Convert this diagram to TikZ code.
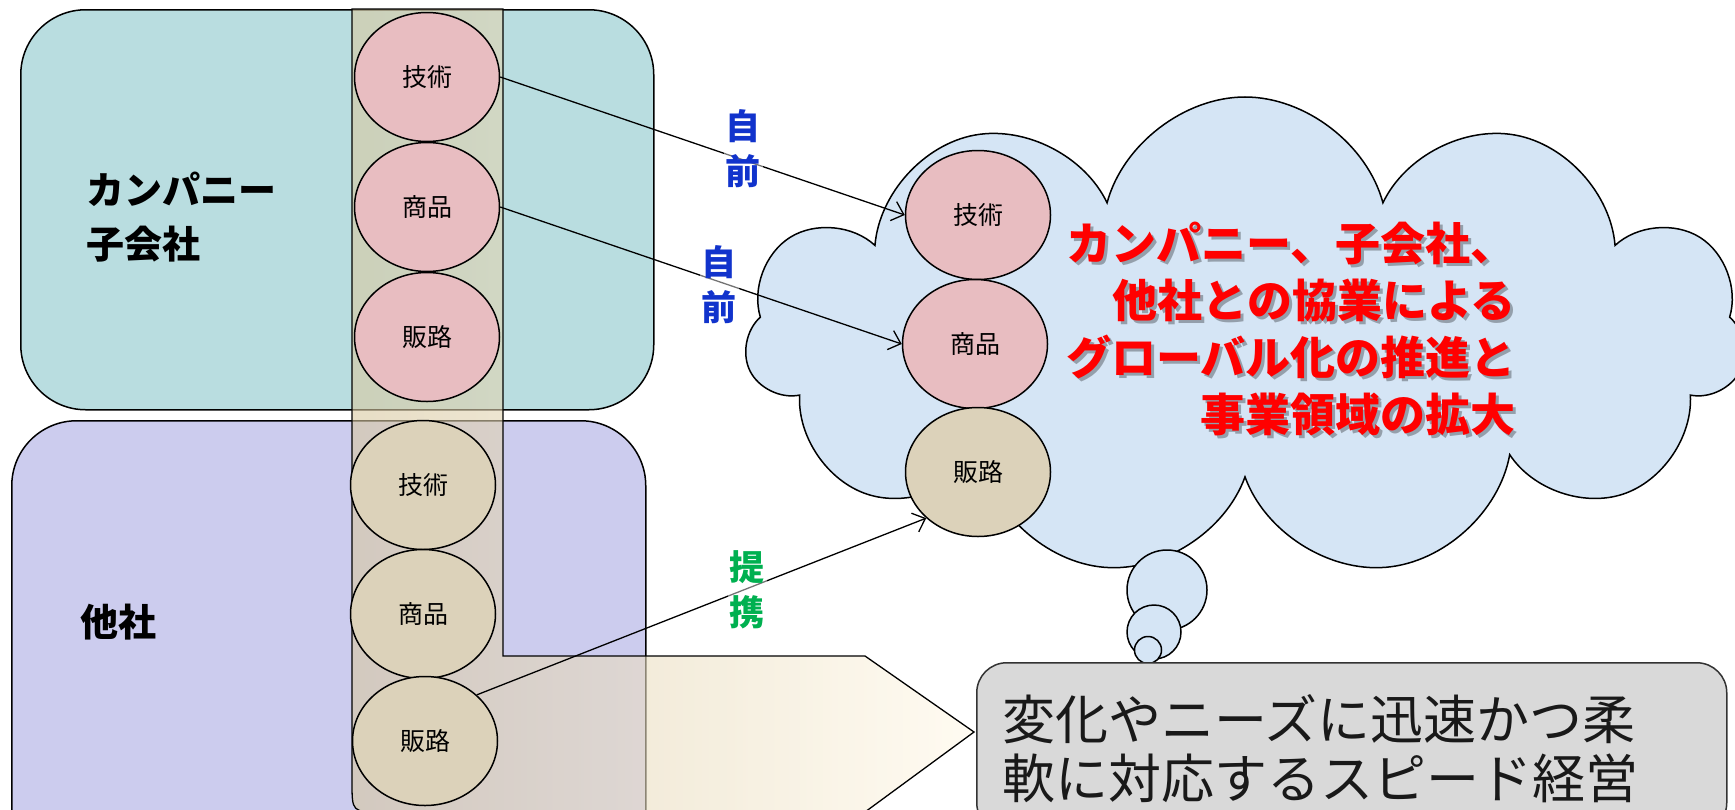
\documentclass[tikz,border=0pt]{standalone}
\usepackage{fontspec}
\setmainfont{Noto Sans CJK JP}
\usetikzlibrary{shapes.geometric,shapes.symbols,arrows.meta}
\definecolor{tealA}{HTML}{B9DDE0}
\definecolor{lavA}{HTML}{CCCCEE}
\definecolor{pinkA}{HTML}{E8BDC1}
\definecolor{tanA}{HTML}{DCD2BA}
\definecolor{cloudA}{HTML}{D5E5F5}
\definecolor{greyA}{HTML}{D9D9D9}
\definecolor{blueA}{HTML}{1133CC}
\definecolor{greenA}{HTML}{00B050}
\definecolor{barL}{HTML}{D8C8A0}
\definecolor{barR}{HTML}{FFF8E8}
\begin{document}
\begin{tikzpicture}[x=1pt,y=-1pt,
  panel/.style={draw=black,line width=1.5pt,rounded corners=65pt,inner sep=0pt},
  res/.style={ellipse,draw=black,line width=1.5pt,minimum width=145pt,minimum height=129pt,inner sep=0pt,font=\fontsize{25}{30}\selectfont},
  big/.style={font=\bfseries\fontsize{38}{54}\selectfont,align=left,inner sep=0pt},
  lab/.style={font=\bfseries\fontsize{35}{45}\selectfont,align=center,inner sep=2pt,fill=white,fill opacity=0.45,text opacity=1},
  conn/.style={line width=1.3pt,-{Straight Barb[length=11pt,width=20pt,line width=1.3pt]}},
  bubble/.style={circle,draw=black,line width=1.5pt,fill=cloudA,inner sep=0pt}
]
\useasboundingbox (0,0) rectangle (1735,809);
% panels
\node[panel,fill=tealA,minimum width=633pt,minimum height=400pt,anchor=north west] (grp) at (20,9) {};
\node[panel,fill=lavA,minimum width=634pt,minimum height=470pt,anchor=north west] (oth) at (11,420) {};
% bent arrow bar
\draw[line width=1.3pt,left color=barL,right color=barR,fill opacity=0.6]
  (352,9) -- (503,9) -- (503,656) -- (865,656) -- (974,732) -- (865,812) -- (382,812)
  .. controls (352,812) .. (352,782) -- cycle;
% left circles
\node[res,fill=pinkA] (t1) at (427,77) {技術};
\node[res,fill=pinkA] (t2) at (427,207) {商品};
\node[res,fill=pinkA] (t3) at (427,337) {販路};
\node[res,fill=tanA] (b1) at (423,485) {技術};
\node[res,fill=tanA] (b2) at (423,614) {商品};
\node[res,fill=tanA] (b3) at (425,741) {販路};
% panel labels
\node[big,anchor=west] (grplab) at (86,217) {カンパニー\\子会社};
\node[big,anchor=west] (othlab) at (80,622) {他社};
% cloud
\node[cloud,cloud puffs=11,aspect=2.1,draw=black,line width=1.5pt,fill=cloudA,minimum width=1000pt,minimum height=480pt] (cloud) at (1245,337) {};
\node[bubble,minimum size=80pt] (p1) at (1167,590) {};
\node[bubble,minimum size=54pt] (p2) at (1154,632) {};
\node[bubble,minimum size=27pt] (p3) at (1148,650) {};
\node[res,fill=pinkA] (c1) at (978,215) {技術};
\node[res,fill=pinkA] (c2) at (975,344) {商品};
\node[res,fill=tanA] (c3) at (978,472) {販路};
\node[align=right,anchor=east,inner sep=0pt,font=\bfseries\fontsize{45}{57}\selectfont,text=black,text opacity=0.3] (goalsh) at (1519,332) {カンパニー、子会社、\\他社との協業による\\グローバル化の推進と\\事業領域の拡大};
\node[align=right,anchor=east,inner sep=0pt,font=\bfseries\fontsize{45}{57}\selectfont,text=red] (goal) at (1516,329) {カンパニー、子会社、\\他社との協業による\\グローバル化の推進と\\事業領域の拡大};
% grey box
\node[draw=black!80,line width=1.5pt,fill=greyA,rounded corners=30pt,minimum width=750pt,minimum height=170pt,anchor=north west] (speed) at (976,662) {};
\node[anchor=west,align=left,inner sep=0pt,font=\fontsize{53}{59}\selectfont,text=black!90] (speedtxt) at (1002,749) {変化やニーズに迅速かつ柔\\軟に対応するスピード経営};
% connectors
\draw[conn] (t1.east) -- (c1.west);
\draw[conn] (t2.east) -- (c2.west);
\draw[conn] (b3.north east) -- (c3.south west);
% connector labels
\node[lab,text=blueA] (l1) at (743,149) {自\\前};
\node[lab,text=blueA] (l2) at (719,285) {自\\前};
\node[lab,text=greenA] (l3) at (747,590) {提\\携};
\end{tikzpicture}
\end{document}
